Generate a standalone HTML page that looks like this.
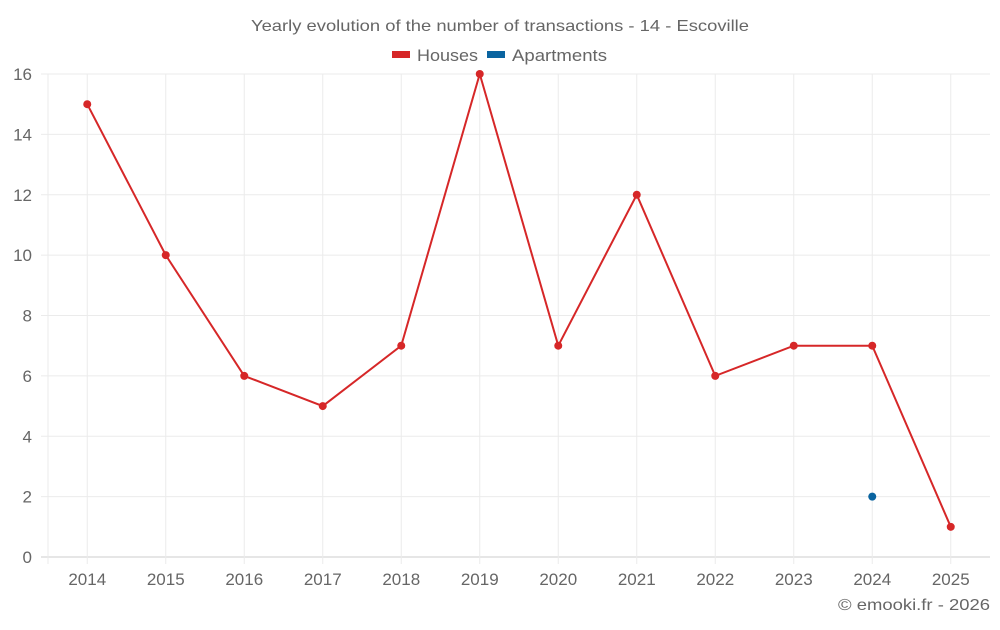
<!DOCTYPE html>
<html><head><meta charset="utf-8"><style>
body{margin:0;background:#fff;font-family:"Liberation Sans",sans-serif;}
svg text{font-family:"Liberation Sans",sans-serif;fill:#666;}
</style></head><body>
<svg id="c" width="1000" height="625">
<text x="251" y="31" font-size="16" textLength="498" lengthAdjust="spacingAndGlyphs">Yearly evolution of the number of transactions - 14 - Escoville</text>
<g>
<rect x="392" y="51" width="18" height="7" fill="#d62728"/>
<text x="417" y="61" font-size="17" textLength="61" lengthAdjust="spacingAndGlyphs">Houses</text>
<rect x="487" y="51" width="18" height="7" fill="#0a64a0"/>
<text x="512" y="61" font-size="17" textLength="95" lengthAdjust="spacingAndGlyphs">Apartments</text>
</g>
<g id="grid"></g><g id="axes"></g><g id="marks"></g>
<text x="838" y="610" font-size="16" textLength="152" lengthAdjust="spacingAndGlyphs">© emooki.fr - 2026</text>
</svg>
<script>
const years=["2014","2015","2016","2017","2018","2019","2020","2021","2022","2023","2024","2025"];
const houses=[15,10,6,5,7,16,7,12,6,7,7,1];
const apartments=[null,null,null,null,null,null,null,null,null,null,2,null];
const yTicks=[0,2,4,6,8,10,12,14,16];
const NS="http://www.w3.org/2000/svg";
const L=48,R=990,T=74,B=557;
const step=(R-L)/years.length;
const x=i=>L+step*(i+0.5);
const y=v=>B-(v/16)*(B-T);
function mk(tag,attrs,parent){const e=document.createElementNS(NS,tag);for(const k in attrs)e.setAttribute(k,attrs[k]);document.getElementById(parent).appendChild(e);return e;}
yTicks.forEach(t=>{
 const g=mk('line',{x1:L-7,x2:R,y1:y(t),y2:y(t),stroke:t===0?'#ccc':'#ebebeb'},'grid');
 
 
 const tx=mk('text',{x:32,y:y(t)+6,'text-anchor':'end','font-size':'17'},'axes');tx.textContent=t;
 
 
});
const lb=mk('line',{x1:L,x2:L,y1:T,y2:B+7,stroke:'#ebebeb'},'grid');


years.forEach((yr,i)=>{
 const g=mk('line',{x1:x(i),x2:x(i),y1:T,y2:B+7,stroke:'#ebebeb'},'grid');
 
 
 const tx=mk('text',{x:x(i),y:585,'text-anchor':'middle','font-size':'17'},'axes');tx.textContent=yr;
 
 
});
function series(vals,color,name){
 let d='';vals.forEach((v,i)=>{if(v!=null)d+=(d?'L':'M')+x(i)+','+y(v);});
 const p=mk('path',{d:d,fill:'none',stroke:color,'stroke-width':2},'marks');
 
 
 vals.forEach((v,i)=>{if(v==null)return;
  const c=mk('circle',{cx:x(i),cy:y(v),r:4,fill:color},'marks');
  
  
 });
}
series(houses,'#d62728','houses');
series(apartments,'#0a64a0','apartments');
</script>
</body></html>
